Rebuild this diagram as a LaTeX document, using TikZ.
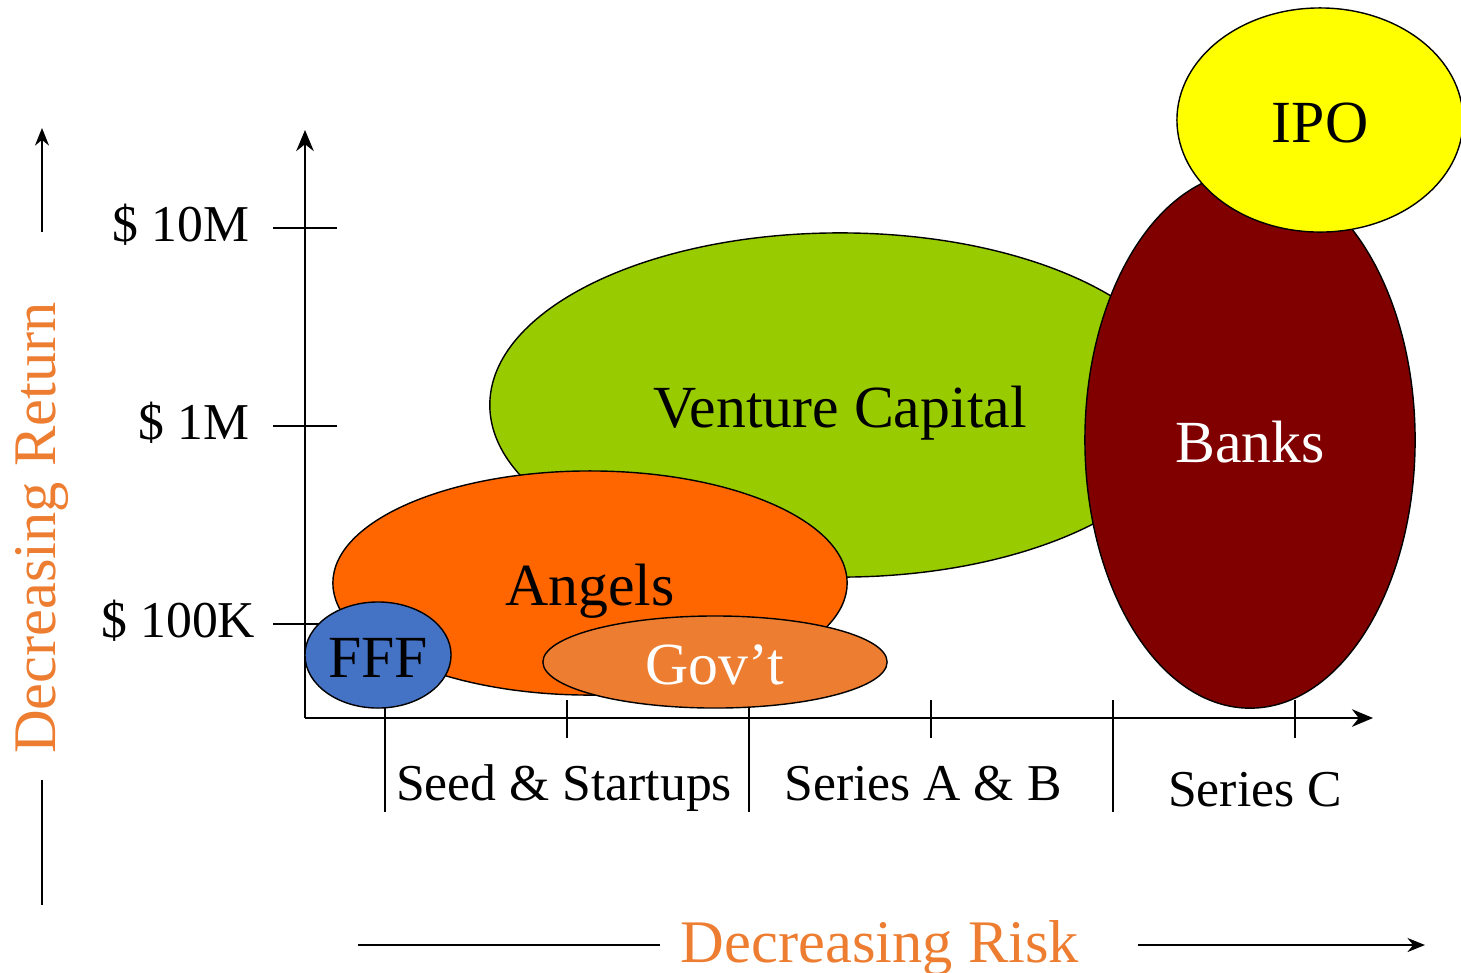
\documentclass[tikz,border=0pt]{standalone}
\usepackage{fontspec}
\setmainfont{Liberation Serif}
\usepackage{tikz}
\usetikzlibrary{shapes.geometric, arrows.meta}
\definecolor{riskorange}{HTML}{ED7D31}
\definecolor{angelorange}{HTML}{FF6600}
\definecolor{fffblue}{HTML}{4472C4}
\definecolor{vcgreen}{HTML}{99CC00}
\definecolor{bankred}{HTML}{800000}
\definecolor{ipoyellow}{HTML}{FFFF00}

\begin{document}
\begin{tikzpicture}[x=0.01cm, y=-0.01cm,
                      blob/.style={ellipse, draw, inner sep=0pt, text height=12.6pt, text depth=0pt, font=\fontsize{17}{20}\selectfont},
                      ticklabel/.style={font=\fontsize{14.7}{17}\selectfont, inner sep=0pt},
                      sidelabel/.style={font=\fontsize{17.2}{20}\selectfont, text=riskorange, inner sep=0pt},
                      axis/.style={line width=0.6pt, -{Stealth[length=6pt, width=5pt]}}]
                      \useasboundingbox (0,0) rectangle (1461,972);
                      % axes and ticks
                      \coordinate (O) at (305,718);
                      \draw[axis] (O) -- (305,130);
                      \draw[axis] (O) -- (1373,718);
                      \foreach \y/\lab/\xr in {228/{\$ 10M}/250, 426/{\$ 1M}/250, 624/{\$ 100K}/256} {
                        \draw[line width=0.5pt] (273,\y) -- (337,\y);
                        \node[ticklabel, anchor=base east] (ylab\y) at (\xr,\y+13) {\lab};
                      }
                      \foreach \x in {567,931,1295} \draw[line width=0.5pt] (\x,700) -- (\x,738);
                      \foreach \x in {385,749,1113} \draw[line width=0.5pt] (\x,700) -- (\x,812);
                      \node[ticklabel, anchor=base] (seed) at (564,800) {Seed \& Startups};
                      \node[ticklabel, anchor=base] (seriesab) at (923,800) {Series A \& B};
                      \node[ticklabel, anchor=base] (seriesc) at (1255,806) {Series C};
                      % funding sources
                      \node[blob, fill=vcgreen, minimum width=7cm, minimum height=3.44cm] (vc) at (840,405) {Venture Capital};
                      \node[blob, fill=angelorange, minimum width=5.14cm, minimum height=2.24cm] (angels) at (590,583) {Angels};
                      \node[blob, fill=riskorange, text=white, minimum width=3.44cm, minimum height=0.92cm] (govt) at (715,662) {Gov’t};
                      \node[blob, fill=fffblue, minimum width=1.46cm, minimum height=1.06cm] (fff) at (378,655) {FFF};
                      \node[blob, fill=bankred, text=white, minimum width=3.3cm, minimum height=5.36cm] (banks) at (1250,440) {Banks};
                      \node[blob, fill=ipoyellow, minimum width=2.86cm, minimum height=2.24cm] (ipo) at (1320,120) {IPO};
                      % side labels
                      \node[sidelabel, rotate=90] (ret) at (42,528) {Decreasing Return};
                      \node[sidelabel, anchor=base] (risk) at (880,962) {Decreasing Risk};
                      \draw[line width=0.5pt, -{Stealth[length=5pt, width=4pt]}] (42,232) -- (42,128);
                      \draw[line width=0.5pt] (42,780) -- (42,905);
                      \draw[line width=0.5pt] (358,945) -- (660,945);
                      \draw[line width=0.5pt, -{Stealth[length=5pt, width=4pt]}] (1138,945) -- (1425,945);
                  \end{tikzpicture}
\end{document}
